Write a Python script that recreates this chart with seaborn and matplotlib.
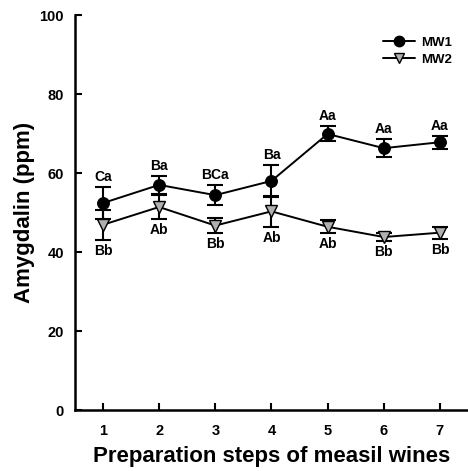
import matplotlib
matplotlib.use("Agg")
import matplotlib.pyplot as plt
import seaborn as sns
import pandas as pd
from matplotlib.lines import Line2D

steps = [1, 2, 3, 4, 5, 6, 7]
mw1_mean = [52.4, 57.0, 54.4, 58.0, 69.9, 66.3, 67.8]
mw1_err = [4.0, 2.3, 2.6, 4.0, 1.9, 2.2, 1.6]
mw2_mean = [46.9, 51.4, 46.7, 50.3, 46.4, 43.8, 44.9]
mw2_err = [3.8, 3.0, 2.0, 4.0, 1.6, 1.0, 1.5]
mw1_letters = ["Ca", "Ba", "BCa", "Ba", "Aa", "Aa", "Aa"]
mw2_letters = ["Bb", "Ab", "Bb", "Ab", "Ab", "Bb", "Bb"]

df1 = pd.DataFrame({"step": steps, "value": mw1_mean, "err": mw1_err})
df2 = pd.DataFrame({"step": steps, "value": mw2_mean, "err": mw2_err})

sns.set_style("ticks")
plt.rcParams["font.family"] = ["Liberation Sans", "DejaVu Sans"]
plt.rcParams["font.weight"] = "bold"
plt.rcParams["text.color"] = "black"
plt.rcParams["axes.labelcolor"] = "black"
plt.rcParams["xtick.color"] = "black"
plt.rcParams["ytick.color"] = "black"
plt.rcParams["axes.edgecolor"] = "black"

fig = plt.figure(figsize=(4.68, 4.71), dpi=100)
ax = fig.add_axes([0.160, 0.1295, 0.84, 0.8385])

for d in (df1, df2):
    ax.errorbar(d["step"], d["value"], yerr=d["err"], fmt="none",
                ecolor="black", elinewidth=1.5, capsize=5.5, capthick=1.5, zorder=2)

sns.lineplot(data=df1, x="step", y="value", ax=ax, color="black", marker="o",
             markersize=8.5, markerfacecolor="black", markeredgecolor="black",
             linewidth=1.4, zorder=3)
sns.lineplot(data=df2, x="step", y="value", ax=ax, color="black", marker="v",
             markersize=8.5, markerfacecolor="#b0b0b0", markeredgecolor="black",
             markeredgewidth=1.0, linewidth=1.4, zorder=3)

for x, m, e, t in zip(steps, mw1_mean, mw1_err, mw1_letters):
    ax.text(x, m + e + 0.8, t, ha="center", va="bottom", fontsize=10,
            fontweight="bold", color="black")
for x, m, e, t in zip(steps, mw2_mean, mw2_err, mw2_letters):
    ax.text(x, m - e - 1.0, t, ha="center", va="top", fontsize=10,
            fontweight="bold", color="black")

ax.set_xlim(0.5, 7.5)
ax.set_ylim(0, 100)
ax.set_xticks(steps)
ax.set_yticks([0, 20, 40, 60, 80, 100])
ax.tick_params(direction="in", length=5, width=1.5, labelsize=10.5,
               colors="black")
ax.tick_params(axis="x", pad=10)
ax.tick_params(axis="y", pad=8)
for lbl in ax.get_xticklabels() + ax.get_yticklabels():
    lbl.set_fontweight("bold")
ax.set_xlabel("Preparation steps of measil wines", fontsize=16,
              fontweight="bold", labelpad=6, color="black")
ax.set_ylabel("Amygdalin (ppm)", fontsize=16, fontweight="bold", labelpad=3,
              color="black")
for s in ("left", "bottom"):
    ax.spines[s].set_linewidth(1.8)
    ax.spines[s].set_color("black")
sns.despine(ax=ax)

handles = [
    Line2D([], [], color="black", marker="o", markersize=7.5, markerfacecolor="black",
           linewidth=1.4),
    Line2D([], [], color="black", marker="v", markersize=7.5,
           markerfacecolor="#b0b0b0", markeredgecolor="black", linewidth=1.4),
]
leg = ax.legend(handles, ["MW1", "MW2"], loc="upper right", frameon=False,
                fontsize=9.5, handlelength=2.4, bbox_to_anchor=(0.99, 0.975),
                labelspacing=0.35, handletextpad=0.5)
for t in leg.get_texts():
    t.set_fontweight("bold")
    t.set_color("black")

fig.savefig("out.png", dpi=100)
